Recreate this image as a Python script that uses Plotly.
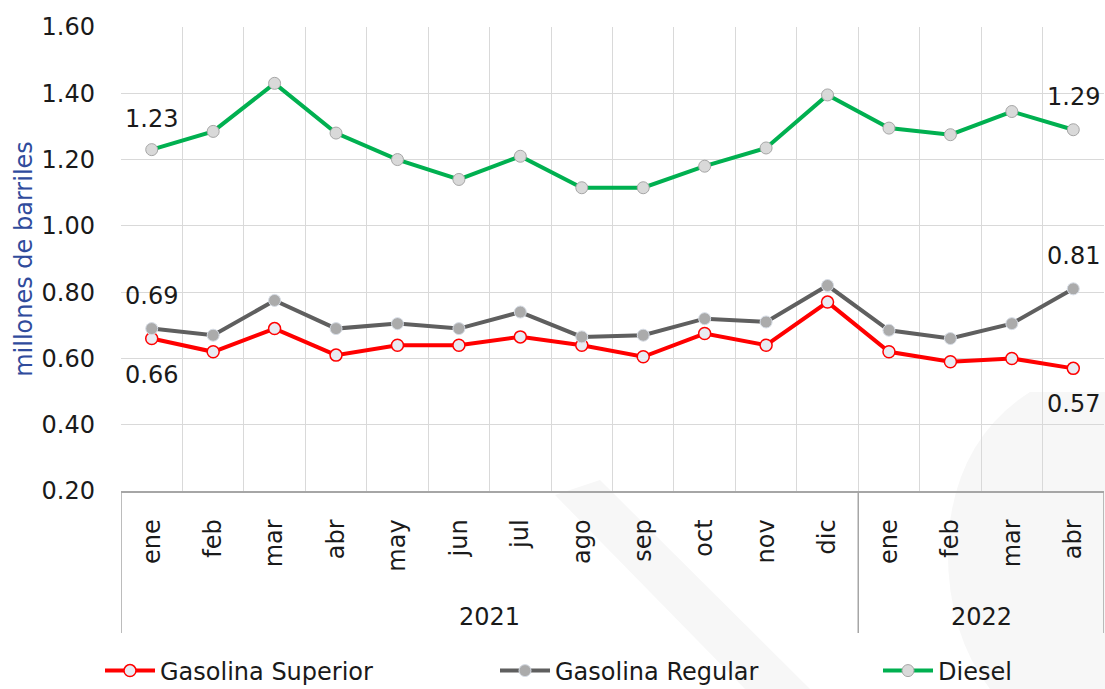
import plotly.graph_objects as go

# Monthly data, ene-2021 .. abr-2022 (millones de barriles)
months = ["ene", "feb", "mar", "abr", "may", "jun", "jul", "ago", "sep", "oct",
          "nov", "dic", "ene", "feb", "mar", "abr"]
years = ["2021"] * 12 + ["2022"] * 4

superior = [0.66, 0.62, 0.69, 0.61, 0.64, 0.64, 0.665, 0.64, 0.605, 0.675,
            0.64, 0.77, 0.62, 0.59, 0.60, 0.57]
regular = [0.69, 0.67, 0.775, 0.69, 0.705, 0.69, 0.74, 0.665, 0.67, 0.72,
           0.71, 0.82, 0.685, 0.66, 0.705, 0.81]
diesel = [1.23, 1.285, 1.43, 1.28, 1.20, 1.14, 1.21, 1.115, 1.115, 1.18,
          1.235, 1.395, 1.295, 1.275, 1.345, 1.29]

yticks = [0.20, 0.40, 0.60, 0.80, 1.00, 1.20, 1.40, 1.60]

FONT = "DejaVu Sans"
FS = 24
W, H = 1105, 689
ML, MR, MT, MB = 121, 1, 27, 198
plot_w = W - ML - MR
plot_h = H - MT - MB
base_px = MT + plot_h


def py(px):
    """pixel row -> paper y"""
    return -(px - base_px) / plot_h


def pxx(px):
    """pixel column -> paper x"""
    return (px - ML) / plot_w


x = list(range(len(months)))

fig = go.Figure()

fig.add_trace(go.Scatter(
    x=x, y=superior, name="Gasolina Superior", mode="lines+markers",
    line=dict(color="#FF0000", width=4), legend="legend",
    marker=dict(size=12, color="#E9EBF2", line=dict(color="#FF0000", width=1.5)),
))
fig.add_trace(go.Scatter(
    x=x, y=regular, name="Gasolina Regular", mode="lines+markers",
    line=dict(color="#5F5F5F", width=4), legend="legend2",
    marker=dict(size=12, color="#ABABAB", line=dict(color="#D6DCE5", width=1)),
))
fig.add_trace(go.Scatter(
    x=x, y=diesel, name="Diesel", mode="lines+markers",
    line=dict(color="#00B050", width=4), legend="legend3",
    marker=dict(size=12, color="#D9D9D9", line=dict(color="#A6A6A6", width=1)),
))

# value labels on first and last points
label_specs = [
    (diesel, 0, 31), (diesel, -1, 33),
    (regular, 0, 33), (regular, -1, 33),
    (superior, 0, -36), (superior, -1, -36),
]
for series, idx, shift in label_specs:
    i = idx % len(series)
    fig.add_annotation(
        x=x[i], y=series[i], text=f"{series[i]:.2f}", showarrow=False,
        yshift=shift, font=dict(family=FONT, size=FS, color="#1A1A1A"),
    )

# year group labels and dividers below the month labels
groups = []
for i, yr in enumerate(years):
    if not groups or groups[-1][0] != yr:
        groups.append([yr, i, i])
    else:
        groups[-1][2] = i

edges = set()
for yr, a, b in groups:
    fig.add_annotation(
        x=(a + b) / 2, y=py(617), xref="x", yref="paper", text=yr,
        showarrow=False, yanchor="middle",
        font=dict(family=FONT, size=FS, color="#1A1A1A"),
    )
    edges.add(a - 0.5)
    edges.add(b + 0.5)
for e in sorted(edges):
    fig.add_shape(type="line", xref="x", yref="paper", x0=e, x1=e,
                  y0=0, y1=py(633), line=dict(color="#A6A6A6", width=1.5))

# faint background emblem in the lower right corner
emblem = "#F7F7F7"
fig.add_shape(
    type="path", xref="paper", yref="paper", layer="below",
    path=(f"M {pxx(1030)},{py(392)} Q {pxx(955)},{py(440)} {pxx(948)},{py(540)} "
          f"Q {pxx(945)},{py(630)} {pxx(990)},{py(689)} L {pxx(1105)},{py(689)} "
          f"L {pxx(1105)},{py(392)} Z"),
    fillcolor=emblem, line=dict(width=0),
)
fig.add_shape(
    type="path", xref="paper", yref="paper", layer="below",
    path=(f"M {pxx(555)},{py(495)} L {pxx(600)},{py(480)} L {pxx(810)},{py(689)} "
          f"L {pxx(745)},{py(689)} Z"),
    fillcolor=emblem, line=dict(width=0),
)

legend_common = dict(
    orientation="h", yanchor="middle", y=py(671), xanchor="left",
    font=dict(family=FONT, size=FS, color="#1A1A1A"),
    itemwidth=50, bgcolor="rgba(0,0,0,0)",
)

fig.update_layout(
    width=W, height=H,
    margin=dict(l=ML, r=MR, t=MT, b=MB, autoexpand=False),
    paper_bgcolor="white", plot_bgcolor="rgba(0,0,0,0)",
    font=dict(family=FONT, size=FS, color="#1A1A1A"),
    showlegend=True,
    legend=dict(x=pxx(100), **legend_common),
    legend2=dict(x=pxx(495), **legend_common),
    legend3=dict(x=pxx(878), **legend_common),
)

fig.update_xaxes(
    range=[-0.5, len(months) - 0.5], automargin=False,
    tickmode="array", tickvals=x, ticktext=months, tickangle=-90,
    ticks="", showgrid=False, zeroline=False,
    showline=True, linecolor="#A6A6A6", linewidth=1.5,
    tickfont=dict(family=FONT, size=FS, color="#1A1A1A"),
    ticklabelstandoff=17,
    minor=dict(tickvals=[i - 0.5 for i in range(len(months) + 1)],
               showgrid=True, gridcolor="#D9D9D9", gridwidth=1, ticks=""),
    fixedrange=True,
)
fig.update_yaxes(
    range=[0.2, 1.6], tickmode="array", tickvals=yticks, automargin=False,
    ticktext=[f"{v:.2f}" for v in yticks],
    showgrid=True, gridcolor="#D9D9D9", gridwidth=1, zeroline=False,
    ticks="", ticklabelstandoff=25,
    tickfont=dict(family=FONT, size=FS, color="#1A1A1A"),
    title=dict(text="millones de barriles", standoff=2,
               font=dict(family=FONT, size=FS, color="#2F4B9C")),
    fixedrange=True,
)

fig.write_html("out.html")
